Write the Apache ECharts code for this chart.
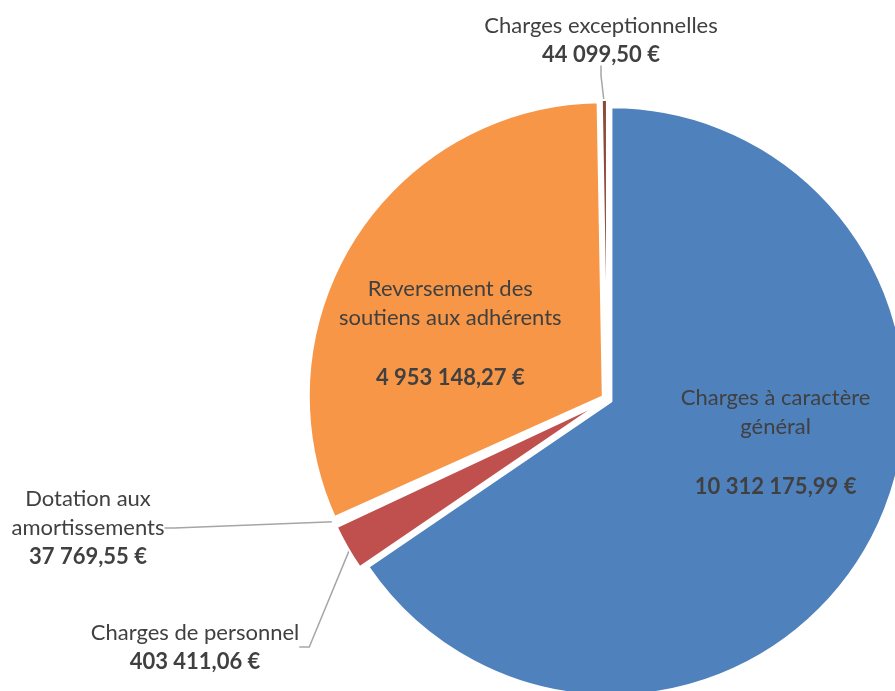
<!DOCTYPE html>
<html><head><meta charset="utf-8">
<script src="https://cdn.jsdelivr.net/npm/echarts@6/dist/echarts.min.js"></script>
<style>html,body{margin:0;padding:0;background:#fff}#c{width:895px;height:691px}</style>
</head><body><div id="c"></div>
<script>
const categories = ["Charges à caractère\ngénéral", "Charges de personnel", "Dotation aux\namortissements", "Reversement des\nsoutiens aux adhérents", "Charges exceptionnelles"];
const values = [10312175.99, 403411.06, 37769.55, 4953148.27, 44099.50];
const valueLabels = ["10 312 175,99 €", "403 411,06 €", "37 769,55 €", "4 953 148,27 €", "44 099,50 €"];
const colors = ["#4F81BD", "#C0504D", "#9BBB59", "#F79646", "#8B4A3C"];
const borderWidths = [2, 2, 5, 2, 2];

const insideIdx = [0, 3];
const labelShift = {0: [36, -27], 3: [-30, 15]};
const labelPlace = {1: [195, 647], 2: [88, 528], 4: [601, 40]};

const pieCenter = [607, 399];
const pieRadius = 294;

const chart = echarts.init(document.getElementById('c'));
chart.setOption({
  animation: false,
  series: [{
    type: 'pie',
    center: pieCenter,
    radius: pieRadius,
    startAngle: 90,
    clockwise: true,
    selectedMode: 'multiple',
    selectedOffset: 5,
    emphasis: {disabled: true},
    silent: true,
    label: {show: false},
    labelLine: {show: false},
    itemStyle: {borderColor: '#fff', borderWidth: 2},
    data: categories.map((c, i) => ({
      name: c, value: values[i], selected: true,
      itemStyle: {color: colors[i], borderWidth: borderWidths[i]}
    }))
  }, {
    type: 'pie',
    center: pieCenter,
    radius: pieRadius,
    startAngle: 90,
    clockwise: true,
    silent: true,
    emphasis: {disabled: true},
    avoidLabelOverlap: false,
    itemStyle: {color: 'rgba(0,0,0,0)', borderWidth: 0},
    data: categories.map((c, i) => ({
      name: c,
      value: values[i],
      label: insideIdx.includes(i) ? {
        position: 'inside',
        formatter: '{n|{b}}\n{g|}\n{v|' + valueLabels[i] + '}'
      } : {
        position: 'outside',
        formatter: '{n|{b}}\n{v|' + valueLabels[i] + '}'
      },
      labelLine: insideIdx.includes(i) ? {show: false} : {show: true, length: 20, length2: 10, lineStyle: {color: '#A6A6A6', width: 1.5}}
    })),
    label: {
      fontFamily: 'Lato',
      color: '#404040',
      align: 'center',
      rich: {
        n: {fontFamily: 'Lato', fontSize: 22, color: '#404040', lineHeight: 29, align: 'center'},
        g: {fontSize: 10, lineHeight: 31},
        v: {fontFamily: 'Lato', fontSize: 22, fontWeight: 'bold', color: '#404040', lineHeight: 29, align: 'center'}
      }
    },
    labelLayout: function (p) {
      const s = labelShift[p.dataIndex];
      if (s) return {dx: s[0], dy: s[1]};
      const q = labelPlace[p.dataIndex];
      if (q) return {x: q[0], y: q[1], align: 'center', verticalAlign: 'middle'};
      return {};
    }
  }]
});
</script></body></html>
